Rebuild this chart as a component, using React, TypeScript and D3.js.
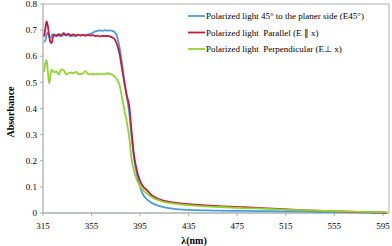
import React from "react";
import * as d3 from "d3";

const wavelengths = [316, 317, 318, 319, 320, 321, 322, 323, 324, 326, 328, 330, 332, 334, 336, 338, 340, 342, 344, 346, 348, 350, 352, 354, 356, 358, 360, 362, 364, 366, 368, 370, 372, 374, 376, 378, 380, 382, 384, 386, 388, 390, 392, 394, 396, 398, 400, 404, 408, 412, 416, 420, 430, 440, 450, 460, 480, 500, 520, 540, 560, 580, 598];

const blueE45 = [0.655, 0.66, 0.685, 0.69, 0.675, 0.67, 0.678, 0.685, 0.68, 0.676, 0.68, 0.676, 0.682, 0.679, 0.681, 0.676, 0.679, 0.677, 0.681, 0.679, 0.682, 0.681, 0.684, 0.686, 0.69, 0.695, 0.697, 0.699, 0.697, 0.7, 0.698, 0.699, 0.697, 0.692, 0.675, 0.635, 0.575, 0.505, 0.445, 0.385, 0.29, 0.21, 0.155, 0.115, 0.085, 0.066, 0.055, 0.04, 0.031, 0.025, 0.021, 0.018, 0.013, 0.011, 0.01, 0.009, 0.008, 0.007, 0.006, 0.004, 0.003, 0.002, 0.001];

const redParallel = [0.675, 0.71, 0.733, 0.715, 0.68, 0.655, 0.65, 0.67, 0.683, 0.68, 0.685, 0.68, 0.688, 0.682, 0.686, 0.68, 0.684, 0.679, 0.683, 0.68, 0.682, 0.678, 0.682, 0.679, 0.681, 0.677, 0.679, 0.676, 0.678, 0.677, 0.678, 0.676, 0.672, 0.665, 0.645, 0.61, 0.555, 0.5, 0.45, 0.41, 0.31, 0.22, 0.17, 0.135, 0.112, 0.098, 0.09, 0.07, 0.058, 0.05, 0.045, 0.042, 0.036, 0.032, 0.029, 0.026, 0.022, 0.018, 0.013, 0.009, 0.006, 0.003, 0.001];

const greenPerp = [0.54, 0.575, 0.585, 0.54, 0.497, 0.52, 0.548, 0.545, 0.538, 0.542, 0.53, 0.55, 0.547, 0.53, 0.535, 0.538, 0.535, 0.54, 0.533, 0.532, 0.535, 0.543, 0.532, 0.531, 0.532, 0.531, 0.532, 0.531, 0.533, 0.531, 0.535, 0.532, 0.53, 0.522, 0.51, 0.49, 0.445, 0.395, 0.35, 0.29, 0.205, 0.16, 0.13, 0.11, 0.095, 0.085, 0.077, 0.062, 0.053, 0.046, 0.041, 0.038, 0.032, 0.028, 0.025, 0.023, 0.019, 0.016, 0.012, 0.009, 0.006, 0.004, 0.002];

const xTicks = [315, 355, 395, 435, 475, 515, 555, 595];
const yTicks = [0, 0.1, 0.2, 0.3, 0.4, 0.5, 0.6, 0.7, 0.8];

const seriesNames = [
  "Polarized light 45\u00b0 to the planer side (E45\u00b0)",
  "Polarized light  Parallel (E \u2225 x)",
  "Polarized light  Perpendicular (E\u22a5 x)",
];
const seriesColors = ["#4a9be6", "#c8193c", "#8ed62a"];

export default function App() {
  const W = 392, H = 246;
  const left = 43, right = 389, top = 4, bottom = 213;
  const x = d3.scaleLinear().domain([315, 600]).range([left, right]);
  const y = d3.scaleLinear().domain([0, 0.8]).range([bottom, top]);
  const line = d3
    .line<number>()
    .x((_, i) => x(wavelengths[i]))
    .y((d) => y(d))
    .curve(d3.curveMonotoneX);
  const series = [blueE45, redParallel, greenPerp];
  const axisColor = "#a9afaf";
  const font = "'Liberation Serif', 'Times New Roman', serif";

  return (
    <svg
      width={W}
      height={H}
      style={{ position: "absolute", left: 0, top: 0, background: "#fff" }}
      fontFamily={font}
    >
      {/* plot border */}
      <line x1={left} y1={top} x2={right} y2={top} stroke={axisColor} strokeWidth={1} />
      <line x1={right} y1={top} x2={right} y2={bottom} stroke={axisColor} strokeWidth={1} />
      {/* axes */}
      <line x1={left} y1={top} x2={left} y2={bottom} stroke={axisColor} strokeWidth={1.3} />
      <line x1={left} y1={bottom} x2={right} y2={bottom} stroke={axisColor} strokeWidth={1.3} />
      {yTicks.map((t) => (
        <g key={"y" + t}>
          <line x1={left - 3} x2={left} y1={y(t)} y2={y(t)} stroke={axisColor} />
          <text x={left - 6} y={y(t) + 3.2} textAnchor="end" fontSize={9}>
            {t === 0 ? "0" : t.toFixed(1)}
          </text>
        </g>
      ))}
      {xTicks.map((t) => (
        <g key={"x" + t}>
          <line x1={x(t)} x2={x(t)} y1={bottom} y2={bottom + 3} stroke={axisColor} />
          <text x={x(t)} y={229} textAnchor="middle" fontSize={9}>
            {t}
          </text>
        </g>
      ))}
      {series.map((s, i) => (
        <path key={i} d={line(s) || ""} fill="none" stroke={seriesColors[i]} strokeWidth={1.8} />
      ))}
      {/* axis titles */}
      <text x={194} y={244} textAnchor="middle" fontSize={10} fontWeight="bold">
        {"\u03bb(nm)"}
      </text>
      <text
        transform="translate(14,112) rotate(-90)"
        textAnchor="middle"
        fontSize={10}
        fontWeight="bold"
      >
        Absorbance
      </text>
      {/* legend */}
      {seriesNames.map((n, i) => {
        const cy = 16 + i * 16.5;
        return (
          <g key={"l" + i}>
            <line x1={188} x2={205} y1={cy} y2={cy} stroke={seriesColors[i]} strokeWidth={1.8} />
            <text x={206} y={cy + 3} fontSize={9} style={{ whiteSpace: "pre" }}>
              {n}
            </text>
          </g>
        );
      })}
    </svg>
  );
}
